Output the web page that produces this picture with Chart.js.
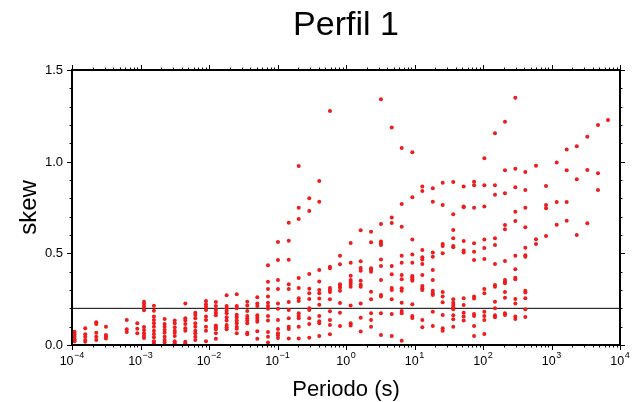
<!DOCTYPE html>
<html><head><meta charset="utf-8">
<script src="https://cdn.jsdelivr.net/npm/chart.js@4/dist/chart.umd.min.js"></script>
<style>html,body{margin:0;padding:0;background:#fff}#wrap{width:638px;height:402px;position:relative}</style>
</head><body><div id="wrap"><canvas id="c" width="638" height="402"></canvas></div>
<script>
const titleText = 'Perfil 1';
const xAxisTitle = 'Periodo (s)';
const yAxisTitle = 'skew';

const periods = [1.09e-4, 1.56e-4, 2.26e-4, 3.13e-4, 6.30e-4, 8.97e-4, 1.125e-3, 1.57e-3, 2.25e-3, 3.16e-3,
  4.51e-3, 6.31e-3, 9.04e-3, 1.26e-2, 1.81e-2, 2.54e-2, 3.62e-2, 5.07e-2, 7.26e-2, 0.1016,
  0.146, 0.204, 0.291, 0.407, 0.583, 0.817, 1.17, 1.64, 2.32, 3.24,
  4.65, 6.50, 9.29, 13.0, 18.5, 25.8, 36.8, 52.2, 74.0, 104.5,
  149.6, 209.4, 296.5, 415, 594, 832, 1191, 1667, 2339, 3334, 4775, 6683];

const skewValues = [
  [0.072, 0.058, 0.045, 0.031, 0.02],
  [0.091, 0.058, 0.045, 0.027, 0.018],
  [0.124, 0.115, 0.067, 0.045, 0.027],
  [0.10, 0.055, 0.045, 0.036],
  [0.136, 0.086, 0.071],
  [0.118, 0.089, 0.064],
  [0.236, 0.224, 0.21, 0.19, 0.098, 0.082, 0.064, 0.05, 0.038],
  [0.214, 0.187, 0.155, 0.136, 0.118, 0.1, 0.078, 0.06, 0.042, 0.02, 0.009],
  [0.142, 0.115, 0.1, 0.082, 0.067, 0.045, 0.027, 0.013],
  [0.133, 0.118, 0.097, 0.078, 0.067, 0.049, 0.02, 0.009],
  [0.227, 0.146, 0.133, 0.115, 0.091, 0.078, 0.018, 0.009],
  [0.176, 0.164, 0.146, 0.118, 0.1, 0.078, 0.064, 0.045, 0.027],
  [0.24, 0.222, 0.209, 0.191, 0.155, 0.136, 0.1, 0.078, 0.02],
  [0.235, 0.213, 0.191, 0.176, 0.162, 0.107, 0.097, 0.086, 0.064, 0.034],
  [0.271, 0.213, 0.2, 0.187, 0.173, 0.151, 0.133, 0.109, 0.097, 0.086],
  [0.277, 0.213, 0.2, 0.165, 0.151, 0.133, 0.118, 0.1, 0.089, 0.064],
  [0.236, 0.216, 0.185, 0.158, 0.146, 0.133, 0.118, 0.067, 0.058],
  [0.26, 0.227, 0.213, 0.162, 0.149, 0.136, 0.127, 0.075, 0.034],
  [0.435, 0.345, 0.305, 0.264, 0.231, 0.213, 0.198, 0.158, 0.133, 0.071, 0.045, 0.013],
  [0.562, 0.464, 0.355, 0.305, 0.227, 0.198, 0.136, 0.087, 0.064, 0.053, 0.038],
  [0.667, 0.569, 0.465, 0.331, 0.305, 0.235, 0.191, 0.146, 0.1, 0.087, 0.036],
  [0.977, 0.749, 0.687, 0.365, 0.311, 0.255, 0.24, 0.173, 0.158, 0.146, 0.1, 0.036],
  [0.80, 0.731, 0.387, 0.307, 0.282, 0.251, 0.2, 0.191, 0.146, 0.115, 0.04],
  [0.895, 0.782, 0.409, 0.347, 0.3, 0.282, 0.253, 0.22, 0.158, 0.129, 0.118, 0.049],
  [1.277, 0.427, 0.418, 0.311, 0.3, 0.289, 0.249, 0.184, 0.136, 0.109, 0.058],
  [0.487, 0.44, 0.331, 0.322, 0.313, 0.296, 0.229, 0.176, 0.104],
  [0.556, 0.449, 0.378, 0.355, 0.344, 0.333, 0.318, 0.216, 0.118, 0.107],
  [0.626, 0.457, 0.42, 0.405, 0.351, 0.329, 0.318, 0.227, 0.149, 0.073],
  [0.618, 0.56, 0.418, 0.409, 0.4, 0.291, 0.249, 0.173, 0.136, 0.1],
  [1.34, 0.66, 0.564, 0.555, 0.546, 0.467, 0.431, 0.355, 0.273, 0.264, 0.173, 0.055],
  [1.186, 0.695, 0.666, 0.431, 0.386, 0.311, 0.3, 0.249, 0.169, 0.049],
  [1.075, 0.769, 0.645, 0.487, 0.449, 0.382, 0.358, 0.309, 0.296, 0.231, 0.185, 0.173, 0.023],
  [1.051, 0.806, 0.575, 0.493, 0.449, 0.376, 0.369, 0.358, 0.351, 0.222, 0.158, 0.147],
  [0.864, 0.84, 0.518, 0.478, 0.467, 0.442, 0.382, 0.322, 0.309, 0.3, 0.136, 0.097],
  [0.855, 0.782, 0.504, 0.482, 0.409, 0.355, 0.296, 0.282, 0.273, 0.182, 0.104],
  [0.885, 0.764, 0.551, 0.54, 0.5, 0.289, 0.264, 0.233, 0.164, 0.091, 0.078],
  [0.889, 0.713, 0.627, 0.582, 0.54, 0.533, 0.249, 0.231, 0.218, 0.206, 0.195, 0.162, 0.14, 0.1],
  [0.864, 0.755, 0.751, 0.567, 0.515, 0.504, 0.255, 0.218, 0.176, 0.155, 0.133],
  [0.891, 0.871, 0.749, 0.555, 0.509, 0.464, 0.264, 0.253, 0.169, 0.158, 0.104, 0.049],
  [1.018, 0.871, 0.755, 0.575, 0.529, 0.469, 0.306, 0.282, 0.182, 0.158, 0.136, 0.06],
  [1.155, 0.871, 0.82, 0.582, 0.546, 0.442, 0.327, 0.318, 0.236, 0.2, 0.162, 0.151],
  [1.218, 0.953, 0.828, 0.655, 0.631, 0.458, 0.355, 0.345, 0.337, 0.289, 0.258, 0.173, 0.164],
  [1.349, 0.962, 0.86, 0.727, 0.676, 0.487, 0.413, 0.367, 0.358, 0.251, 0.227, 0.155, 0.142],
  [0.944, 0.846, 0.749, 0.642, 0.531, 0.489, 0.482, 0.296, 0.287, 0.255, 0.195, 0.153],
  [0.978, 0.577, 0.551],
  [0.867, 0.764, 0.746, 0.595],
  [0.995, 0.78, 0.656],
  [1.066, 0.953, 0.78, 0.678],
  [1.084, 0.904, 0.6],
  [1.136, 0.955, 0.664],
  [1.2, 0.937, 0.846],
  [1.227]
];

const referenceSkew = 0.2;
const xDecades = [-4, -3, -2, -1, 0, 1, 2, 3, 4];
const xMinorMultipliers = [2, 3, 4, 5, 6, 7, 8, 9];
const yTickValues = [0, 0.5, 1.0, 1.5];
const yTickLabels = ['0.0', '0.5', '1.0', '1.5'];
const yMinorStep = 0.1;

const points = [];
periods.forEach((p, i) => skewValues[i].forEach(v => points.push({x: p, y: v})));

const FONT = '"Liberation Sans", Arial, Helvetica, sans-serif';

const framePlugin = {
  id: 'gmtFrame',
  afterDraw(chart) {
    const ctx = chart.ctx;
    const a = chart.chartArea;
    const xs = chart.scales.x, ys = chart.scales.y;
    ctx.save();
    ctx.strokeStyle = '#000';
    ctx.fillStyle = '#000';
    ctx.lineWidth = 1;
    ctx.beginPath();
    const xTick = (v, len) => {
      const px = Math.round(xs.getPixelForValue(v)) + 0.5;
      ctx.moveTo(px, a.bottom); ctx.lineTo(px, a.bottom + len);
      ctx.moveTo(px, a.top); ctx.lineTo(px, a.top - len);
    };
    const yTick = (v, len) => {
      const py = Math.round(ys.getPixelForValue(v)) + 0.5;
      ctx.moveTo(a.left, py); ctx.lineTo(a.left - len, py);
      ctx.moveTo(a.right, py); ctx.lineTo(a.right + len, py);
    };
    xDecades.forEach((e, i) => {
      xTick(Math.pow(10, e), 5);
      if (i < xDecades.length - 1) xMinorMultipliers.forEach(m => xTick(m * Math.pow(10, e), 2.5));
    });
    for (let v = 0; v <= 1.5001; v += yMinorStep) {
      const r = Math.round(v * 10) / 10;
      const major = yTickValues.some(t => Math.abs(t - r) < 1e-6);
      yTick(r, major ? 5 : 2.5);
    }
    ctx.stroke();
    ctx.lineWidth = 2;
    ctx.strokeRect(a.left, a.top, a.right - a.left, a.bottom - a.top);
    ctx.font = '13px ' + FONT;
    ctx.textAlign = 'right';
    ctx.textBaseline = 'middle';
    yTickValues.forEach((v, i) => ctx.fillText(yTickLabels[i], a.left - 9, ys.getPixelForValue(v) + 0.5));
    ctx.textAlign = 'left';
    ctx.textBaseline = 'alphabetic';
    xDecades.forEach(e => {
      const px = xs.getPixelForValue(Math.pow(10, e));
      const base = '10';
      const ex = e < 0 ? '\u2212' + (-e) : String(e);
      ctx.font = '12.5px ' + FONT;
      const bw = ctx.measureText(base).width;
      ctx.font = '9px ' + FONT;
      const ew = ctx.measureText(ex).width;
      const x0 = px - (bw + ew + 0.5) / 2;
      ctx.font = '12.5px ' + FONT;
      ctx.fillText(base, x0, a.bottom + 20);
      ctx.font = '9px ' + FONT;
      ctx.fillText(ex, x0 + bw + 0.5, a.bottom + 12.5);
    });
    ctx.font = '22px ' + FONT;
    ctx.textAlign = 'center';
    ctx.textBaseline = 'alphabetic';
    ctx.fillText(xAxisTitle, (a.left + a.right) / 2, a.bottom + 51);
    ctx.save();
    ctx.translate(36, (a.top + a.bottom) / 2);
    ctx.rotate(-Math.PI / 2);
    ctx.font = '24px ' + FONT;
    ctx.fillText(yAxisTitle, 0, 0);
    ctx.restore();
    ctx.font = '34px ' + FONT;
    ctx.textAlign = 'center';
    ctx.fillText(titleText, (a.left + a.right) / 2, 35);
    ctx.restore();
  }
};

new Chart(document.getElementById('c'), {
  type: 'scatter',
  data: {
    datasets: [
      {
        label: 'skew',
        data: points,
        pointRadius: 2,
        pointBorderWidth: 0,
        pointBackgroundColor: '#ee1c1c',
        pointBorderColor: '#ee1c1c',
        showLine: false,
        order: 0
      },
      {
        label: 'referencia',
        data: [{x: 1e-4, y: referenceSkew}, {x: 1e4, y: referenceSkew}],
        showLine: true,
        borderColor: '#000',
        borderWidth: 1,
        pointRadius: 0,
        order: 1
      }
    ]
  },
  options: {
    responsive: false,
    devicePixelRatio: 1,
    animation: false,
    layout: {padding: {left: 72, right: 18, top: 70, bottom: 57}},
    plugins: {legend: {display: false}, tooltip: {enabled: false}, title: {display: false}},
    scales: {
      x: {type: 'logarithmic', min: 1e-4, max: 1e4, display: false},
      y: {type: 'linear', min: 0, max: 1.5, display: false}
    }
  },
  plugins: [framePlugin]
});
</script>
</body></html>
